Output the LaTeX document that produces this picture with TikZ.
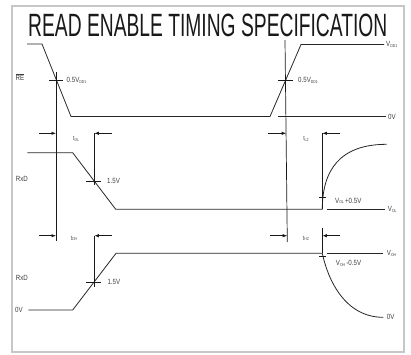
\documentclass[tikz,border=0pt]{standalone}
\usepackage{fontspec}
\setmainfont{Liberation Sans}
\newfontfamily\lf[FakeStretch=0.82]{Liberation Sans}
\usetikzlibrary{arrows.meta}
\newcommand\sbs[1]{\raisebox{-0.6pt}{\fontsize{4.2}{4.2}\selectfont #1}}
\begin{document}
\begin{tikzpicture}[x=1pt,y=-1pt,
 sig/.style={draw=black!85, line width=0.8pt},
 vline/.style={draw=black!90, line width=0.7pt},
 tickln/.style={draw=black!90, line width=0.7pt},
 meas/.style={draw=black!90, line width=0.7pt, -{Latex[length=4.5pt,width=3.4pt]}},
 lbl/.style={inner sep=0, text=black!75, font=\lf\fontsize{7.5}{8}\selectfont},
 tlbl/.style={inner sep=0, text=black!70, font=\lf\fontsize{6.5}{7}\selectfont},
 framebox/.style={draw=black!22, line width=1.4pt}]
\useasboundingbox (0,0) rectangle (411,354);
\draw[framebox] (12,6) rectangle (404,352);
\node[anchor=south west, inner sep=0, text=black!90] (title) at (28,37)
  {\resizebox{359pt}{22.5pt}{\lf READ ENABLE TIMING SPECIFICATION}};

% ---- RE signal
\coordinate (re0) at (27,44);
\coordinate (re1) at (42,44);
\coordinate (re2) at (71,116.5);
\coordinate (re3) at (270,116.5);
\coordinate (re4) at (301,44.5);
\coordinate (re5) at (384,44.5);
\draw[sig] (re0) -- (re1) -- (re2) -- (re3) -- (re4) -- (re5);
\node[lbl, anchor=west] (vdd) at (386,44.5) {V\sbs{DD1}};
\coordinate (z0a) at (278,116.5);
\coordinate (z0b) at (386,116.5);
\draw[sig] (z0a) -- (z0b);
\node[lbl, anchor=west] (zv1) at (388,116.5) {0V};
\node[lbl, anchor=west] (relbl) at (15.5,77) {$\overline{\mbox{RE}}$};

% reference verticals
\coordinate (va) at (56,72);
\coordinate (vb) at (56,241);
\draw[vline] (va) -- (vb);
\coordinate (vc) at (285,40);
\coordinate (vd) at (287.3,242);
\draw[vline] (vc) -- (vd);

% RE ticks
\coordinate (ta1) at (49,80.3); \coordinate (ta2) at (63,80.3);
\draw[tickln] (ta1) -- (ta2);
\node[lbl, anchor=west] (h1) at (66.5,80.3) {0.5V\sbs{DD1}};
\coordinate (tb1) at (278,80.3); \coordinate (tb2) at (293,80.3);
\draw[tickln] (tb1) -- (tb2);
\node[lbl, anchor=west] (h2) at (298,80.3) {0.5V\sbs{DD1}};

% ---- RxD (high to low)
\coordinate (a0) at (27.3,152.7);
\coordinate (a1) at (72.7,152.7);
\coordinate (a2) at (115.7,209.3);
\coordinate (a3) at (322.3,209.3);
\coordinate (a4) at (386.7,144.3);
\draw[sig] (a0) -- (a1) -- (a2) -- (a3);
\draw[sig] (a3) .. controls (322.3,170) and (340,144.3) .. (a4);
\coordinate (vol1) at (326.7,209.3); \coordinate (vol2) at (385,209.3);
\draw[sig] (vol1) -- (vol2);
\node[lbl, anchor=west] (voll) at (387.7,209.3) {V\sbs{OL}};
\node[lbl, anchor=west] (rxd1) at (15.7,179) {RxD};

% tDL
\coordinate (dl1) at (39.3,133.3); \coordinate (dl2) at (56,133.3);
\draw[meas] (dl1) -- (dl2);
\coordinate (dl3) at (111.7,133.3); \coordinate (dl4) at (94.3,133.3);
\draw[meas] (dl3) -- (dl4);
\coordinate (dl5) at (94.3,185);
\draw[vline] (dl4) -- (dl5);
\coordinate (dlt1) at (86,181); \coordinate (dlt2) at (101,181);
\draw[tickln] (dlt1) -- (dlt2);
\node[lbl, anchor=west] (v15a) at (107,181) {1.5V};
\node[tlbl] (tdl) at (76,139) {t\sbs{DL}};

% tLZ
\coordinate (lz1) at (268.3,133.3); \coordinate (lz2) at (286.2,133.3);
\draw[meas] (lz1) -- (lz2);
\coordinate (lz3) at (340,133.3); \coordinate (lz4) at (322.3,133.3);
\draw[meas] (lz3) -- (lz4);
\draw[vline] (lz4) -- (a3);
\coordinate (lzt1) at (319,197.3); \coordinate (lzt2) at (325.5,197.3);
\draw[tickln] (lzt1) -- (lzt2);
\node[lbl, anchor=west] (volp) at (335,200.7) {V\sbs{OL}\,+0.5V};
\node[tlbl] (tlz) at (306,139) {t\sbs{LZ}};

% ---- RxD (low to high)
\coordinate (b0) at (28.3,310);
\coordinate (b1) at (72.7,310);
\coordinate (b2) at (116,253.3);
\coordinate (b3) at (322.3,253.3);
\coordinate (b4) at (383.3,317.3);
\draw[sig] (b0) -- (b1) -- (b2) -- (b3);
\draw[sig] (b3) .. controls (328,280) and (345,317.3) .. (b4);
\coordinate (voh1) at (326.7,253.3); \coordinate (voh2) at (383.3,253.3);
\draw[sig] (voh1) -- (voh2);
\node[lbl, anchor=west] (vohl) at (386.7,253.3) {V\sbs{OH}};
\node[lbl, anchor=west] (zv3) at (386.7,317.3) {0V};
\node[lbl, anchor=west] (zv2) at (15,310) {0V};
\node[lbl, anchor=west] (rxd2) at (15.7,277.7) {RxD};

% tDH
\coordinate (dh1) at (39.3,235.7); \coordinate (dh2) at (56,235.7);
\draw[meas] (dh1) -- (dh2);
\coordinate (dh3) at (111.7,235.7); \coordinate (dh4) at (94.3,235.7);
\draw[meas] (dh3) -- (dh4);
\coordinate (dh5) at (94.3,286.7);
\draw[vline] (dh4) -- (dh5);
\coordinate (dht1) at (86,282); \coordinate (dht2) at (101,282);
\draw[tickln] (dht1) -- (dht2);
\node[lbl, anchor=west] (v15b) at (107.3,282) {1.5V};
\node[tlbl] (tdh) at (74,238.3) {t\sbs{DH}};

% tHZ
\coordinate (hz1) at (270,235.7); \coordinate (hz2) at (287.2,235.7);
\draw[meas] (hz1) -- (hz2);
\coordinate (hz3) at (340,235.7); \coordinate (hz4) at (322.3,235.7);
\draw[meas] (hz3) -- (hz4);
\coordinate (hz0) at (322.3,228.3);
\draw[vline] (hz0) -- (b3);
\coordinate (hzt1) at (319,256.7); \coordinate (hzt2) at (325.5,256.7);
\draw[tickln] (hzt1) -- (hzt2);
\node[lbl, anchor=west] (vohm) at (335.7,263.3) {V\sbs{OH}\,-0.5V};
\node[tlbl] (thz) at (306,238.3) {t\sbs{HZ}};
\end{tikzpicture}
\end{document}
